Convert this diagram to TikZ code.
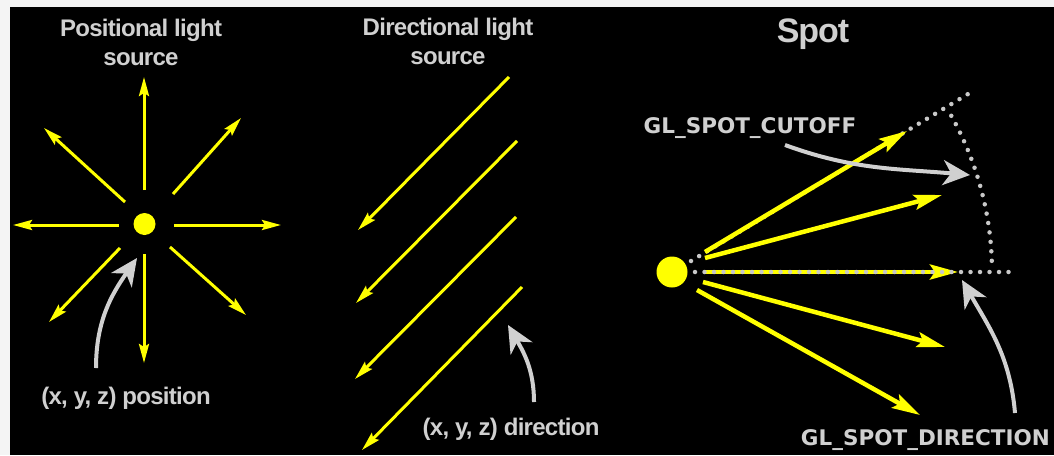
\documentclass[tikz,border=0pt]{standalone}
\usepackage{fontspec}
\setmainfont{Liberation Sans}
\newfontfamily\labfont{Liberation Sans}[LetterSpace=-3]
\newfontfamily\codefont{DejaVu Sans}
\usetikzlibrary{arrows.meta}
\definecolor{bggray}{RGB}{244,244,244}
\definecolor{lbl}{RGB}{208,208,208}
\definecolor{ylw}{RGB}{255,255,0}
\definecolor{dotc}{RGB}{200,200,200}
\begin{document}
\begin{tikzpicture}[x=1pt,y=1pt,
  ray/.style={draw=ylw, line width=3pt, -{Stealth[length=19pt,width=10pt,inset=3pt]}},
  sray/.style={draw=ylw, line width=4.5pt, -{Stealth[length=28pt,width=15pt,inset=5pt]}},
  pointer/.style={draw=lbl, line width=4pt, -{Stealth[length=27pt,width=25pt,inset=8pt]}},
  guide/.style={draw=dotc, line width=4.5pt, line cap=round, dash pattern=on 0pt off 9.5pt},
  lab/.style={text=lbl, font=\labfont\bfseries\fontsize{24}{29}\selectfont, align=center, inner sep=0pt},
  code/.style={text=lbl, font=\codefont\bfseries\fontsize{21.5}{26}\selectfont, inner sep=0pt},
  src/.style={circle, fill=ylw, inner sep=0pt},
]
\fill[bggray] (0,0) rectangle (1054,-455);
\fill[black] (10,-7) rectangle (1054,-455);
\useasboundingbox (0,0) rectangle (1054,-455);

% ---------- Positional light ----------
\node[lab] (tpos) at (141,-42) {Positional light\\source};
\node[src, minimum size=22pt] (psrc) at (144.5,-224) {};
\coordinate (pu0) at (144,-190); \coordinate (pu1) at (144,-77);
\coordinate (pd0) at (144,-254); \coordinate (pd1) at (144,-363);
\coordinate (pl0) at (119,-225); \coordinate (pl1) at (13,-225);
\coordinate (pr0) at (174,-225); \coordinate (pr1) at (281,-225);
\coordinate (pul0) at (125,-202); \coordinate (pul1) at (44,-128);
\coordinate (pur0) at (173,-194); \coordinate (pur1) at (241,-118);
\coordinate (pll0) at (120,-248); \coordinate (pll1) at (49,-322);
\coordinate (plr0) at (170,-247); \coordinate (plr1) at (246,-315);
\foreach \a in {pu,pd,pl,pr,pul,pur,pll,plr}{\draw[ray] (\a0) -- (\a1);}
\node[lab, anchor=base] (tposxyz) at (126,-404) {(x, y, z) position};
\coordinate (pp0) at (96,-368); \coordinate (pp1) at (137,-258);
\draw[pointer] (pp0) to[out=90,in=235] (pp1);

% ---------- Directional light ----------
\node[lab] (tdir) at (448,-41) {Directional light\\source};
\coordinate (d10) at (509,-77);  \coordinate (d11) at (358,-230);
\coordinate (d20) at (517,-141); \coordinate (d21) at (356,-303);
\coordinate (d30) at (516,-217); \coordinate (d31) at (355,-379);
\coordinate (d40) at (522,-287); \coordinate (d41) at (362,-450);
\foreach \a in {d1,d2,d3,d4}{\draw[ray] (\a0) -- (\a1);}
\node[lab, anchor=base] (tdirxyz) at (511,-435) {(x, y, z) direction};
\coordinate (dp0) at (534,-402); \coordinate (dp1) at (508,-325);
\draw[pointer] (dp0) to[out=90,in=300] (dp1);

% ---------- Spot ----------
\node[lab, font=\labfont\bfseries\fontsize{34}{40}\selectfont, anchor=base] (tspot) at (813,-42) {Spot};
\node[src, minimum size=31pt] (ssrc) at (672,-272) {};
\coordinate (cut0) at (691,-261); \coordinate (cut1) at (973,-91);
\draw[guide] (cut0) -- (cut1);
\coordinate (arc0) at (991.8,-260.8);
\draw[guide] (arc0) arc[start angle=2, end angle=29.5, radius=320];
\coordinate (s10) at (705,-252); \coordinate (s11) at (907,-131);
\coordinate (s20) at (705,-258); \coordinate (s21) at (942,-195);
\coordinate (s30) at (705,-272); \coordinate (s31) at (958,-272);
\coordinate (s40) at (703,-282); \coordinate (s41) at (945,-347);
\coordinate (s50) at (697,-290); \coordinate (s51) at (920,-415);
\foreach \a in {s1,s2,s3,s4,s5}{\draw[sray] (\a0) -- (\a1);}
\coordinate (dir0) at (695,-272); \coordinate (dir1) at (1013,-272);
\draw[guide] (dir0) -- (dir1);
\node[code, anchor=base] (tcut) at (750,-133) {GL\_SPOT\_CUTOFF};
\coordinate (cp0) at (785,-145); \coordinate (cp1) at (970,-175);
\draw[pointer] (cp0) to[out=-20,in=175] (cp1);
\node[code, anchor=base east] (tsdir) at (1050,-445) {GL\_SPOT\_DIRECTION};
\coordinate (sp0) at (1015,-413); \coordinate (sp1) at (962,-280);
\draw[pointer] (sp0) to[out=95,in=300] (sp1);
\end{tikzpicture}
\end{document}
